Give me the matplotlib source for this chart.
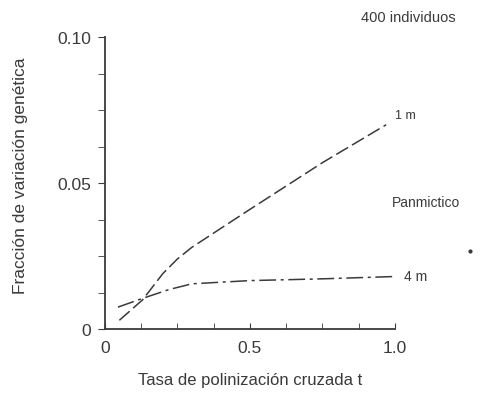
import numpy as np
import matplotlib.pyplot as plt
from matplotlib.ticker import MultipleLocator

plt.rcParams["font.family"] = ["Liberation Sans", "DejaVu Sans"]

# tasa de polinización cruzada vs. fracción de variación
t_1m = [0.05, 0.13, 0.20, 0.25, 0.30, 0.50, 0.75, 0.97]
f_1m = [0.003, 0.010, 0.019, 0.024, 0.028, 0.041, 0.057, 0.070]
t_4m = [0.045, 0.13, 0.22, 0.30, 0.50, 0.75, 1.00]
f_4m = [0.0075, 0.0105, 0.0135, 0.0155, 0.0166, 0.0172, 0.018]

ink = "#3a3a3a"

fig = plt.figure(figsize=(4.81, 4.02), dpi=100)
ax = fig.add_axes([0.218, 0.179, 0.603, 0.726])

ax.plot(t_1m, f_1m, color=ink, lw=1.1, linestyle=(0, (9, 3)))
ax.plot(t_4m, f_4m, color=ink, lw=1.1, linestyle=(0, (11, 3, 2, 3)))

ax.set_xlim(0, 1.0)
ax.set_ylim(0, 0.10)
ax.spines["top"].set_visible(False)
ax.spines["right"].set_visible(False)
for s in ("left", "bottom"):
    ax.spines[s].set_color(ink)
    ax.spines[s].set_linewidth(1.3)

ax.set_xticks([0, 0.5, 1.0])
ax.set_xticklabels(["0", "0.5", "1.0"])
ax.set_yticks([0, 0.05, 0.10])
ax.set_yticklabels(["0", "0.05", "0.10"])
ax.xaxis.set_minor_locator(MultipleLocator(0.125))
ax.yaxis.set_minor_locator(MultipleLocator(0.0125))
ax.tick_params(axis="x", which="both", direction="in", length=4, colors=ink,
               labelsize=12.5, pad=8)
ax.tick_params(axis="y", which="both", direction="out", length=5, colors=ink,
               labelsize=12.5, pad=5)

ax.set_xlabel("Tasa de polinización cruzada t", fontsize=12, color=ink, labelpad=12)
ax.set_ylabel("Fracción de variación genética", fontsize=12.5, color=ink)
ax.yaxis.set_label_coords(-0.265, 0.53)

ax.text(1.0, 0.0735, "1 m", fontsize=9, color=ink, va="center")
ax.text(1.03, 0.0182, "4 m", fontsize=10, color=ink, va="center")
ax.text(0.99, 0.0435, "Panmictico", fontsize=10, color=ink, va="center")
ax.plot([1.259], [0.0267], marker="o", ms=2, color=ink, clip_on=False)
fig.text(0.947, 0.955, "400 individuos", fontsize=10.5, color=ink, ha="right", va="center")

fig.savefig("out.png", dpi=100, facecolor="white")
